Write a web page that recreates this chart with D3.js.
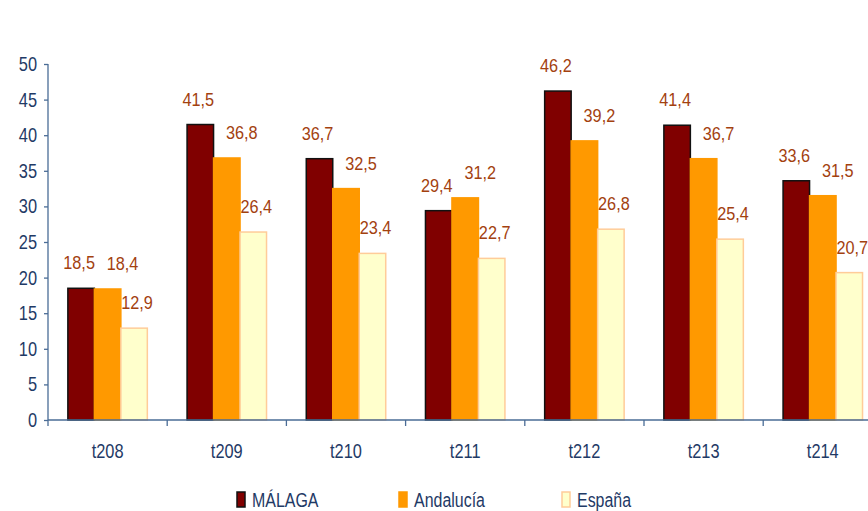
<!DOCTYPE html>
<html lang="es">
<head>
    <meta charset="UTF-8">
    <script src="https://d3js.org/d3.v7.min.js"></script>
    <style>
        body {margin: 0; background-color: #ffffff}
        svg {display: block}
        text {font-family: "Liberation Sans", Arial, sans-serif; transform-box: fill-box}
        .axis text {fill: #1F3A66; font-size: 20px; transform: scaleX(0.82)}
        .yaxis text {transform-origin: right center}
        .xaxis text {transform-origin: center}
        .axis path, .axis line {stroke: #4A6C96; stroke-width: 1.3}
        .value {fill: #A3410F; font-size: 17.5px; transform-origin: center; transform: scaleX(0.93)}
        .legend text {fill: #1F3A66; font-size: 21px; transform-origin: left center; transform: scaleX(0.76)}
    </style>
</head>
<body>
<svg class="chart" width="868" height="511"></svg>
<script type="text/javascript">
    // periodos (trimestres) y tasas
    const periods = ['t208', 't209', 't210', 't211', 't212', 't213', 't214'];
    const seriesNames = ['MÁLAGA', 'Andalucía', 'España'];
    const malaga = [18.5, 41.5, 36.7, 29.4, 46.2, 41.4, 33.6];
    const andalucia = [18.4, 36.8, 32.5, 31.2, 39.2, 36.7, 31.5];
    const espana = [12.9, 26.4, 23.4, 22.7, 26.8, 25.4, 20.7];
    const yTicks = [0, 5, 10, 15, 20, 25, 30, 35, 40, 45, 50];

    const fills = ['#800000', '#FF9900', '#FFFFCC'];
    const strokes = ['#111111', '#FF9900', '#FFCC99'];
    const labelShift = [-2, 15, 3];

    let plotLeft = 48, plotTop = 64, plotBottom = 420;
    let catWidth = 119.2;

    let svg = d3.select('.chart');

    let x0 = d3.scaleBand()
        .domain(periods)
        .range([plotLeft, plotLeft + catWidth * periods.length])
        .padding(0);

    let x1 = d3.scaleBand()
        .domain(seriesNames)
        .range([0, x0.bandwidth()])
        .paddingInner(0)
        .paddingOuter(0.75);

    let y = d3.scaleLinear()
        .domain([0, 50])
        .range([plotBottom, plotTop]);

    let rows = periods.map(function (p, i) {
        return {period: p, values: [malaga[i], andalucia[i], espana[i]]};
    });

    // eje Y
    let yAxis = svg.append('g')
        .attr('class', 'axis yaxis')
        .attr('transform', 'translate(' + plotLeft + ',0)')
        .call(d3.axisLeft(y).tickValues(yTicks).tickSize(4).tickPadding(7).tickFormat(d3.format('d')));
    yAxis.select('.domain').attr('d', 'M0,' + plotTop + 'V' + plotBottom);

    // barras
    let groups = svg.append('g')
        .selectAll('g')
        .data(rows)
        .enter()
        .append('g')
        .attr('transform', function (d) { return 'translate(' + x0(d.period) + ',0)'; });

    groups.selectAll('rect')
        .data(function (d) { return d.values.map(function (v, k) { return {name: seriesNames[k], k: k, v: v}; }); })
        .enter()
        .append('rect')
        .attr('x', function (d) { return x1(d.name); })
        .attr('y', function (d) { return y(d.v); })
        .attr('width', x1.bandwidth())
        .attr('height', function (d) { return plotBottom - y(d.v); })
        .attr('fill', function (d) { return fills[d.k]; })
        .attr('stroke', function (d) { return strokes[d.k]; })
        .attr('stroke-width', 1.5);

    groups.selectAll('text')
        .data(function (d) { return d.values.map(function (v, k) { return {name: seriesNames[k], k: k, v: v}; }); })
        .enter()
        .append('text')
        .attr('class', 'value')
        .attr('x', function (d) { return x1(d.name) + x1.bandwidth() / 2 + labelShift[d.k]; })
        .attr('y', function (d) { return y(d.v) - 19; })
        .attr('text-anchor', 'middle')
        .text(function (d) { return d3.format('.1f')(d.v).replace('.', ','); });

    // eje X
    let xAxis = svg.append('g')
        .attr('class', 'axis xaxis')
        .attr('transform', 'translate(0,' + plotBottom + ')')
        .call(d3.axisBottom(x0).tickSize(0).tickPadding(24));
    xAxis.select('.domain').attr('d', 'M' + plotLeft + ',0H868');
    xAxis.selectAll('.sep')
        .data(periods)
        .enter()
        .append('line')
        .attr('class', 'sep')
        .attr('x1', function (d) { return x0(d); })
        .attr('x2', function (d) { return x0(d); })
        .attr('y1', 0)
        .attr('y2', 6);

    // leyenda
    let legendX = [237, 399, 562];
    let legend = svg.append('g').attr('class', 'legend');
    seriesNames.forEach(function (name, k) {
        legend.append('rect')
            .attr('x', legendX[k]).attr('y', 492)
            .attr('width', 8).attr('height', 15)
            .attr('fill', fills[k])
            .attr('stroke', strokes[k]).attr('stroke-width', 1.5);
        legend.append('text')
            .attr('x', legendX[k] + 15).attr('y', 507)
            .text(name);
    });
</script>
</body>
</html>
